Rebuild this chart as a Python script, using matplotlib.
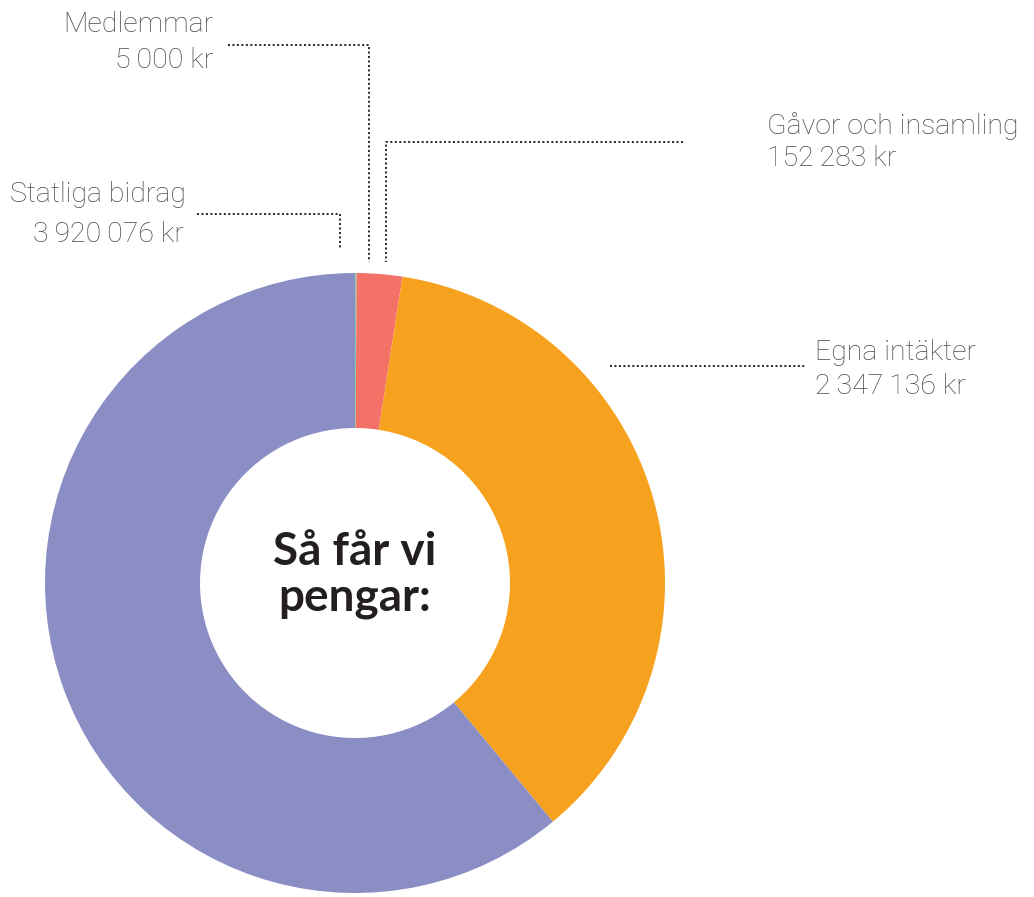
import matplotlib
matplotlib.use("Agg")
import matplotlib.pyplot as plt

# Data
labels = ["Medlemmar", "Gåvor och insamling", "Egna intäkter", "Statliga bidrag"]
values = [5000, 152283, 2347136, 3920076]
value_texts = ["5\u2009000 kr", "152\u2009283 kr", "2\u2009347\u2009136 kr", "3\u2009920\u2009076 kr"]
colors = ["#8CCBA4", "#F37167", "#F7A21E", "#8B8EC5"]
center_title = "Så får vi\npengar:"

W, H = 1034, 897
fig = plt.figure(figsize=(W / 100, H / 100), dpi=100)
ax = fig.add_axes([0, 0, 1, 1])

cx, cy, R = 355, H - 583, 310
ax.pie(values, colors=colors, startangle=90, counterclock=False,
       center=(cx, cy), radius=R, frame=True,
       wedgeprops=dict(width=155, edgecolor="none", linewidth=0))
ax.set_xlim(0, W)
ax.set_ylim(0, H)
ax.set_aspect("equal")
ax.axis("off")

ax.text(cx, H - 575, center_title, ha="center", va="center",
        fontsize=33, fontweight="bold", family="Lato", color="#231F20",
        linespacing=1.12)

lab_kw = dict(fontsize=20.5, family=["Roboto", "Lato", "DejaVu Sans"],
              fontweight="light", color="#4A4A4C")
dot_kw = dict(color="#222222", linestyle=(0, (1, 1.3)), linewidth=1.4)

def Y(y):
    return H - y

# Medlemmar
ax.plot([228, 369, 369], [Y(45), Y(45), Y(262)], **dot_kw)
ax.text(213, Y(24), labels[0], ha="right", va="center", **lab_kw)
ax.text(213, Y(60), value_texts[0], ha="right", va="center", **lab_kw)

# Gåvor och insamling
ax.plot([683, 386, 386], [Y(142), Y(142), Y(262)], **dot_kw)
ax.text(767, Y(126), labels[1], ha="left", va="center", **lab_kw)
ax.text(767, Y(158), value_texts[1], ha="left", va="center", **lab_kw)

# Egna intäkter
ax.plot([610, 805], [Y(366), Y(366)], **dot_kw)
ax.text(815, Y(352), labels[2], ha="left", va="center", **lab_kw)
ax.text(815, Y(386), value_texts[2], ha="left", va="center", **lab_kw)

# Statliga bidrag
ax.plot([197, 340, 340], [Y(214), Y(214), Y(248)], **dot_kw)
ax.text(186, Y(194), labels[3], ha="right", va="center", **lab_kw)
ax.text(184, Y(234), value_texts[3], ha="right", va="center", **lab_kw)

fig.savefig("out.png", dpi=100, facecolor="white")
